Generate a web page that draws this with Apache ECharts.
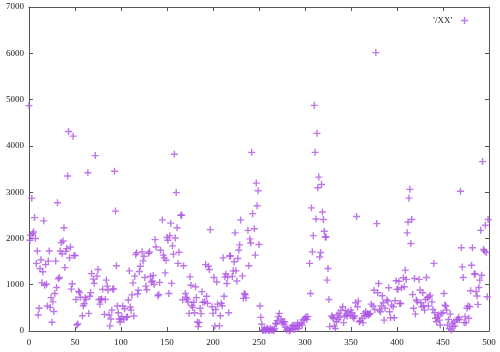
<!DOCTYPE html>
<html><head><meta charset="utf-8">
<script src="https://cdn.jsdelivr.net/npm/echarts@6/dist/echarts.min.js"></script>
<style>html,body{margin:0;padding:0;background:#fff}#c{width:500px;height:352px}</style>
</head><body><div id="c"></div>
<script>
const seriesName = "'/XX'";
const xValues = [0,1,2,3,4,5,6,7,8,9,10,11,12,13,14,15,16,17,18,19,20,21,22,23,24,25,26,27,28,29,30,31,32,33,34,35,36,37,38,39,40,41,42,43,44,45,46,47,48,49,50,51,52,53,54,55,56,58,59,60,61,62,64,65,66,67,68,70,71,72,74,75,76,77,78,79,80,82,83,84,85,86,87,88,89,90,91,92,93,94,95,96,97,98,99,100,101,102,103,104,106,107,108,109,110,111,112,113,114,115,116,117,118,119,120,121,123,124,125,126,127,128,130,131,132,133,134,135,136,137,138,140,141,142,143,145,146,147,148,149,150,151,152,153,154,155,156,157,158,159,160,161,162,163,165,166,167,168,170,171,172,173,174,175,176,177,178,179,180,181,182,183,184,185,186,187,188,189,191,192,193,194,195,196,197,199,200,201,202,203,204,205,207,208,209,210,211,212,213,214,215,216,217,218,219,221,222,223,224,225,226,227,228,229,230,232,233,234,235,236,238,239,240,241,242,243,245,246,247,248,249,250,251,252,253,254,255,256,257,258,259,260,261,262,263,264,265,266,267,268,269,270,271,272,274,275,276,277,278,279,280,281,283,284,285,286,287,288,289,290,291,292,293,294,296,297,298,299,300,301,302,303,305,306,307,308,309,310,311,312,313,314,315,316,317,318,319,320,321,322,323,324,325,326,327,329,330,331,332,333,334,335,336,337,338,339,341,342,343,344,345,346,347,349,350,351,352,353,354,355,356,357,358,359,360,362,363,364,365,366,367,368,369,370,371,372,374,375,376,377,378,379,380,381,382,383,384,385,386,387,389,390,391,392,393,394,396,397,398,399,400,401,402,403,404,405,407,408,409,410,411,412,413,414,415,416,417,418,419,420,421,422,424,425,426,427,428,429,430,431,432,433,434,435,436,438,439,440,441,442,443,444,445,446,447,448,450,451,452,453,454,455,456,457,458,459,460,461,462,463,465,466,467,468,469,470,471,472,473,474,475,476,477,478,479,480,481,482,484,485,486,487,488,489,490,491,492,493,494,495,496,497,498,499];
const yValues = [4870,1960,2070,2870,2100,2140,2450,2000,1460,1730,345,490,1350,1540,1040,1280,2380,990,1435,1010,540,1510,1730,510,720,190,630,420,810,1510,940,2770,1130,1155,1730,1910,1670,1945,2230,1370,1720,1780,3350,4310,1580,1815,905,1020,4210,1630,1630,680,130,150,860,830,730,330,545,590,720,680,3420,380,750,830,1240,1120,1030,3790,1185,1330,680,580,680,690,900,360,680,1100,970,880,345,110,260,450,905,910,3450,2590,1410,540,395,260,195,260,310,540,250,480,295,310,670,1300,520,450,780,1040,325,1185,1650,1690,800,880,1285,1400,1710,1515,1615,1155,970,890,1680,1710,1180,1055,1080,1200,1005,1975,1815,760,790,1050,1745,2400,1640,1580,1255,1530,2020,1960,810,2060,2330,1030,1840,1660,3820,2010,2990,2230,1460,1700,2500,2500,675,1410,810,725,690,625,380,1170,990,550,510,620,395,955,720,195,95,180,490,375,850,620,630,1435,750,600,1400,1330,2190,525,380,1155,110,465,1060,580,110,330,600,545,1580,750,1170,1230,1025,1165,395,1620,1620,1180,1300,1495,2120,1300,1080,1565,1745,1860,2400,1190,705,810,790,720,2175,1410,1990,1900,3860,2535,2210,1640,3195,2705,3030,1870,540,295,145,10,20,45,10,30,60,20,5,55,15,40,25,10,50,165,150,220,310,380,260,180,200,150,200,80,20,50,0,20,55,110,130,35,115,55,95,180,55,130,165,130,240,250,275,310,250,310,1460,810,2660,1710,2060,4875,3860,2420,4270,3095,3325,1600,1695,3165,2570,2410,2155,2030,2030,1100,1350,680,95,325,295,275,110,55,200,345,250,380,295,450,525,180,325,440,345,325,415,345,450,395,310,275,325,610,2475,525,645,200,220,275,180,380,325,415,345,380,345,360,380,580,540,880,465,6015,2320,825,1025,450,415,540,760,610,235,490,670,645,935,415,285,560,525,285,655,1085,900,900,1075,595,595,935,1150,955,1315,1115,2120,2355,2870,3060,1890,2410,790,490,1135,365,670,630,1115,885,610,525,825,540,450,680,1155,720,540,740,775,630,465,1460,395,275,200,295,345,235,130,380,395,810,560,540,450,130,250,55,365,20,165,95,200,110,235,250,295,250,3020,1800,1385,1155,180,310,180,490,540,275,525,870,1420,1800,1230,1230,850,755,575,940,1100,2175,1205,3660,1760,1730,2285,1695,740,2410];
const xRange = [0, 500];
const xStep = 50;
const yRange = [0, 7000];
const yStep = 1000;

const points = xValues.map((x, i) => [x, yValues[i]]);
const purple = '#ad55e4';
const plus = 'path://M2.8,0H4.2V2.8H7V4.2H4.2V7H2.8V4.2H0V2.8H2.8Z';
const font = 'Liberation Serif';
const lineStyle = { color: '#555', width: 1 };
const plain = v => String(v);

function axisBase(extra) {
  return Object.assign({
    type: 'value',
    splitLine: { show: false },
    axisLine: { show: true, onZero: false, lineStyle: lineStyle },
    axisTick: { show: true, inside: true, length: 4, lineStyle: lineStyle },
    axisLabel: { show: true, fontFamily: font, fontSize: 9, color: '#222', formatter: plain }
  }, extra);
}

const chart = echarts.init(document.getElementById('c'), null, { renderer: 'canvas' });
chart.setOption({
  animation: false,
  backgroundColor: '#fff',
  grid: { left: 29, right: 11, top: 7, bottom: 21, containLabel: false },
  legend: {
    show: true,
    right: 27,
    top: 11,
    align: 'right',
    itemWidth: 7,
    itemHeight: 7,
    icon: plus,
    itemStyle: { color: purple, borderWidth: 0 },
    textStyle: { fontFamily: font, fontSize: 9, color: '#222', padding: [0, 4, 0, 0] },
    data: [{ name: seriesName, icon: plus, itemStyle: { color: purple, borderWidth: 0 } }]
  },
  xAxis: [
    axisBase({ min: xRange[0], max: xRange[1], interval: xStep, position: 'bottom',
      axisLabel: { fontFamily: font, fontSize: 9, color: '#222', margin: 7, formatter: plain } }),
    axisBase({ min: xRange[0], max: xRange[1], interval: xStep, position: 'top',
      axisLabel: { show: false } })
  ],
  yAxis: [
    axisBase({ min: yRange[0], max: yRange[1], interval: yStep, position: 'left',
      axisLabel: { fontFamily: font, fontSize: 9, color: '#222', margin: 5, formatter: plain } }),
    axisBase({ min: yRange[0], max: yRange[1], interval: yStep, position: 'right',
      axisLabel: { show: false } })
  ],
  series: [{
    name: seriesName,
    type: 'scatter',
    xAxisIndex: 0,
    yAxisIndex: 0,
    symbol: plus,
    symbolSize: 7,
    itemStyle: { color: purple, borderWidth: 0 },
    data: points,
    clip: false
  }]
});
</script></body></html>
